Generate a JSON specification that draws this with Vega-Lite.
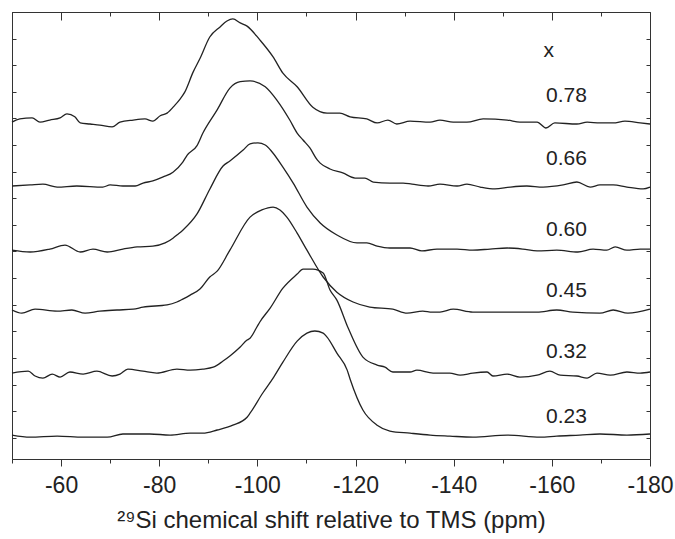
{
  "$schema": "https://vega.github.io/schema/vega-lite/v6.json",
  "autosize": "none",
  "width": 638,
  "height": 447,
  "padding": {"left": 12, "top": 12, "right": 25, "bottom": 80},
  "background": "white",
  "config": {
    "font": "Liberation Sans",
    "view": {"stroke": "#333", "strokeWidth": 1},
    "axis": {"tickColor": "#333", "domainColor": "#333", "labelColor": "#222", "titleColor": "#222", "grid": false, "tickWidth": 1}
  },
  "datasets": {
    "spectra": [
      {"comp":"0.78","shift":-50.0,"intensity":11.86},{"comp":"0.78","shift":-51.6,"intensity":11.98},{"comp":"0.78","shift":-54.1,"intensity":12.02},{"comp":"0.78","shift":-55.7,"intensity":11.86},{"comp":"0.78","shift":-57.7,"intensity":11.94},{"comp":"0.78","shift":-59.8,"intensity":12.02},{"comp":"0.78","shift":-61.2,"intensity":12.17},{"comp":"0.78","shift":-62.8,"intensity":12.06},{"comp":"0.78","shift":-63.9,"intensity":11.83},{"comp":"0.78","shift":-65.9,"intensity":11.79},{"comp":"0.78","shift":-67.9,"intensity":11.75},{"comp":"0.78","shift":-70.4,"intensity":11.68},{"comp":"0.78","shift":-72.0,"intensity":11.86},{"comp":"0.78","shift":-74.7,"intensity":11.94},{"comp":"0.78","shift":-77.1,"intensity":11.98},{"comp":"0.78","shift":-78.7,"intensity":11.90},{"comp":"0.78","shift":-80.2,"intensity":12.10},{"comp":"0.78","shift":-81.6,"intensity":12.20},{"comp":"0.78","shift":-83.2,"intensity":12.50},{"comp":"0.78","shift":-84.2,"intensity":12.72},{"comp":"0.78","shift":-85.2,"intensity":12.99},{"comp":"0.78","shift":-86.9,"intensity":13.74},{"comp":"0.78","shift":-88.3,"intensity":14.25},{"comp":"0.78","shift":-90.3,"intensity":15.06},{"comp":"0.78","shift":-92.4,"intensity":15.44},{"comp":"0.78","shift":-93.8,"intensity":15.66},{"comp":"0.78","shift":-95.0,"intensity":15.74},{"comp":"0.78","shift":-96.5,"intensity":15.59},{"comp":"0.78","shift":-97.9,"intensity":15.47},{"comp":"0.78","shift":-100.5,"intensity":14.95},{"comp":"0.78","shift":-103.2,"intensity":14.31},{"comp":"0.78","shift":-105.2,"intensity":13.70},{"comp":"0.78","shift":-108.1,"intensity":13.19},{"comp":"0.78","shift":-111.3,"intensity":12.42},{"comp":"0.78","shift":-114.2,"intensity":12.20},{"comp":"0.78","shift":-116.8,"intensity":12.20},{"comp":"0.78","shift":-118.9,"intensity":12.06},{"comp":"0.78","shift":-122.3,"intensity":11.98},{"comp":"0.78","shift":-124.4,"intensity":11.83},{"comp":"0.78","shift":-126.6,"intensity":11.94},{"comp":"0.78","shift":-128.4,"intensity":11.79},{"comp":"0.78","shift":-131.1,"intensity":11.90},{"comp":"0.78","shift":-135.2,"intensity":11.86},{"comp":"0.78","shift":-137.2,"intensity":11.94},{"comp":"0.78","shift":-139.9,"intensity":11.86},{"comp":"0.78","shift":-142.7,"intensity":11.86},{"comp":"0.78","shift":-146.0,"intensity":11.98},{"comp":"0.78","shift":-150.9,"intensity":11.94},{"comp":"0.78","shift":-153.5,"intensity":11.86},{"comp":"0.78","shift":-157.0,"intensity":11.86},{"comp":"0.78","shift":-158.8,"intensity":11.64},{"comp":"0.78","shift":-160.6,"intensity":11.83},{"comp":"0.78","shift":-165.1,"intensity":11.79},{"comp":"0.78","shift":-167.2,"intensity":11.86},{"comp":"0.78","shift":-169.8,"intensity":11.83},{"comp":"0.78","shift":-172.5,"intensity":11.83},{"comp":"0.78","shift":-174.9,"intensity":11.90},{"comp":"0.78","shift":-178.0,"intensity":11.83},{"comp":"0.78","shift":-180.0,"intensity":11.79},

      {"comp":"0.66","shift":-50.0,"intensity":9.46},{"comp":"0.66","shift":-53.7,"intensity":9.50},{"comp":"0.66","shift":-56.3,"intensity":9.53},{"comp":"0.66","shift":-59.2,"intensity":9.42},{"comp":"0.66","shift":-63.2,"intensity":9.46},{"comp":"0.66","shift":-68.5,"intensity":9.42},{"comp":"0.66","shift":-70.0,"intensity":9.50},{"comp":"0.66","shift":-72.6,"intensity":9.46},{"comp":"0.66","shift":-75.1,"intensity":9.46},{"comp":"0.66","shift":-76.7,"intensity":9.57},{"comp":"0.66","shift":-78.7,"intensity":9.65},{"comp":"0.66","shift":-80.8,"intensity":9.80},{"comp":"0.66","shift":-82.8,"intensity":9.98},{"comp":"0.66","shift":-84.8,"intensity":10.36},{"comp":"0.66","shift":-85.7,"intensity":10.62},{"comp":"0.66","shift":-87.7,"intensity":10.98},{"comp":"0.66","shift":-88.9,"intensity":11.45},{"comp":"0.66","shift":-91.8,"intensity":12.32},{"comp":"0.66","shift":-94.4,"intensity":13.14},{"comp":"0.66","shift":-96.5,"intensity":13.38},{"comp":"0.66","shift":-98.5,"intensity":13.41},{"comp":"0.66","shift":-101.6,"intensity":13.19},{"comp":"0.66","shift":-104.0,"intensity":12.68},{"comp":"0.66","shift":-106.6,"intensity":11.94},{"comp":"0.66","shift":-108.1,"intensity":11.45},{"comp":"0.66","shift":-109.3,"intensity":11.19},{"comp":"0.66","shift":-110.7,"intensity":10.89},{"comp":"0.66","shift":-112.2,"intensity":10.44},{"comp":"0.66","shift":-112.8,"intensity":10.32},{"comp":"0.66","shift":-114.8,"intensity":10.10},{"comp":"0.66","shift":-117.4,"intensity":9.95},{"comp":"0.66","shift":-119.9,"intensity":9.76},{"comp":"0.66","shift":-121.9,"intensity":9.76},{"comp":"0.66","shift":-123.6,"intensity":9.61},{"comp":"0.66","shift":-127.0,"intensity":9.57},{"comp":"0.66","shift":-129.7,"intensity":9.57},{"comp":"0.66","shift":-131.5,"intensity":9.53},{"comp":"0.66","shift":-134.8,"intensity":9.46},{"comp":"0.66","shift":-137.2,"intensity":9.53},{"comp":"0.66","shift":-140.7,"intensity":9.46},{"comp":"0.66","shift":-142.7,"intensity":9.53},{"comp":"0.66","shift":-145.4,"intensity":9.42},{"comp":"0.66","shift":-148.4,"intensity":9.35},{"comp":"0.66","shift":-151.5,"intensity":9.42},{"comp":"0.66","shift":-154.9,"intensity":9.46},{"comp":"0.66","shift":-158.2,"intensity":9.42},{"comp":"0.66","shift":-162.3,"intensity":9.50},{"comp":"0.66","shift":-165.1,"intensity":9.61},{"comp":"0.66","shift":-167.8,"intensity":9.42},{"comp":"0.66","shift":-169.8,"intensity":9.50},{"comp":"0.66","shift":-172.5,"intensity":9.50},{"comp":"0.66","shift":-175.3,"intensity":9.42},{"comp":"0.66","shift":-178.6,"intensity":9.35},{"comp":"0.66","shift":-180.0,"intensity":9.42},

      {"comp":"0.60","shift":-50.0,"intensity":7.05},{"comp":"0.60","shift":-53.7,"intensity":6.98},{"comp":"0.60","shift":-57.7,"intensity":7.09},{"comp":"0.60","shift":-60.8,"intensity":7.24},{"comp":"0.60","shift":-63.9,"intensity":6.98},{"comp":"0.60","shift":-66.5,"intensity":7.09},{"comp":"0.60","shift":-69.4,"intensity":6.98},{"comp":"0.60","shift":-72.6,"intensity":7.09},{"comp":"0.60","shift":-75.5,"intensity":7.17},{"comp":"0.60","shift":-78.7,"intensity":7.20},{"comp":"0.60","shift":-81.2,"intensity":7.32},{"comp":"0.60","shift":-82.8,"intensity":7.50},{"comp":"0.60","shift":-83.6,"intensity":7.62},{"comp":"0.60","shift":-84.8,"intensity":7.80},{"comp":"0.60","shift":-87.7,"intensity":8.41},{"comp":"0.60","shift":-90.3,"intensity":9.34},{"comp":"0.60","shift":-93.0,"intensity":10.21},{"comp":"0.60","shift":-94.4,"intensity":10.40},{"comp":"0.60","shift":-97.1,"intensity":10.81},{"comp":"0.60","shift":-98.5,"intensity":11.04},{"comp":"0.60","shift":-100.1,"intensity":11.08},{"comp":"0.60","shift":-101.6,"intensity":11.00},{"comp":"0.60","shift":-103.0,"intensity":10.74},{"comp":"0.60","shift":-105.2,"intensity":10.17},{"comp":"0.60","shift":-107.3,"intensity":9.57},{"comp":"0.60","shift":-110.1,"intensity":8.67},{"comp":"0.60","shift":-112.8,"intensity":8.07},{"comp":"0.60","shift":-116.2,"intensity":7.62},{"comp":"0.60","shift":-120.3,"intensity":7.32},{"comp":"0.60","shift":-122.3,"intensity":7.32},{"comp":"0.60","shift":-124.4,"intensity":7.20},{"comp":"0.60","shift":-127.0,"intensity":7.13},{"comp":"0.60","shift":-131.1,"intensity":7.13},{"comp":"0.60","shift":-133.5,"intensity":7.02},{"comp":"0.60","shift":-136.6,"intensity":7.09},{"comp":"0.60","shift":-140.7,"intensity":7.09},{"comp":"0.60","shift":-143.9,"intensity":7.05},{"comp":"0.60","shift":-147.4,"intensity":7.09},{"comp":"0.60","shift":-150.9,"intensity":7.13},{"comp":"0.60","shift":-154.1,"intensity":7.09},{"comp":"0.60","shift":-157.0,"intensity":7.02},{"comp":"0.60","shift":-161.0,"intensity":7.05},{"comp":"0.60","shift":-165.3,"intensity":6.98},{"comp":"0.60","shift":-168.4,"intensity":7.09},{"comp":"0.60","shift":-171.2,"intensity":7.05},{"comp":"0.60","shift":-172.9,"intensity":7.17},{"comp":"0.60","shift":-175.3,"intensity":7.05},{"comp":"0.60","shift":-178.0,"intensity":7.09},{"comp":"0.60","shift":-180.0,"intensity":7.09},

      {"comp":"0.45","shift":-50.0,"intensity":4.80},{"comp":"0.45","shift":-52.0,"intensity":4.68},{"comp":"0.45","shift":-54.7,"intensity":4.83},{"comp":"0.45","shift":-59.2,"intensity":4.76},{"comp":"0.45","shift":-62.2,"intensity":4.80},{"comp":"0.45","shift":-64.9,"intensity":4.68},{"comp":"0.45","shift":-67.9,"intensity":4.76},{"comp":"0.45","shift":-71.4,"intensity":4.80},{"comp":"0.45","shift":-74.7,"intensity":4.83},{"comp":"0.45","shift":-76.7,"intensity":4.91},{"comp":"0.45","shift":-81.6,"intensity":4.99},{"comp":"0.45","shift":-83.6,"intensity":5.10},{"comp":"0.45","shift":-84.8,"intensity":5.21},{"comp":"0.45","shift":-86.3,"intensity":5.36},{"comp":"0.45","shift":-88.3,"intensity":5.59},{"comp":"0.45","shift":-90.3,"intensity":6.04},{"comp":"0.45","shift":-91.8,"intensity":6.26},{"comp":"0.45","shift":-94.4,"intensity":7.05},{"comp":"0.45","shift":-98.5,"intensity":8.29},{"comp":"0.45","shift":-100.9,"intensity":8.56},{"comp":"0.45","shift":-103.2,"intensity":8.67},{"comp":"0.45","shift":-104.6,"intensity":8.56},{"comp":"0.45","shift":-106.0,"intensity":8.29},{"comp":"0.45","shift":-108.1,"intensity":7.69},{"comp":"0.45","shift":-110.1,"intensity":7.05},{"comp":"0.45","shift":-113.4,"intensity":6.04},{"comp":"0.45","shift":-116.2,"intensity":5.47},{"comp":"0.45","shift":-119.5,"intensity":5.10},{"comp":"0.45","shift":-122.9,"intensity":4.91},{"comp":"0.45","shift":-127.6,"intensity":4.83},{"comp":"0.45","shift":-130.5,"intensity":4.68},{"comp":"0.45","shift":-133.7,"intensity":4.76},{"comp":"0.45","shift":-135.6,"intensity":4.72},{"comp":"0.45","shift":-137.2,"intensity":4.72},{"comp":"0.45","shift":-139.9,"intensity":4.83},{"comp":"0.45","shift":-143.9,"intensity":4.72},{"comp":"0.45","shift":-150.9,"intensity":4.72},{"comp":"0.45","shift":-157.0,"intensity":4.72},{"comp":"0.45","shift":-161.0,"intensity":4.80},{"comp":"0.45","shift":-164.3,"intensity":4.72},{"comp":"0.45","shift":-169.8,"intensity":4.68},{"comp":"0.45","shift":-172.5,"intensity":4.80},{"comp":"0.45","shift":-175.5,"intensity":4.68},{"comp":"0.45","shift":-180.0,"intensity":4.83},

      {"comp":"0.32","shift":-50.0,"intensity":2.43},{"comp":"0.32","shift":-53.3,"intensity":2.50},{"comp":"0.32","shift":-54.7,"intensity":2.32},{"comp":"0.32","shift":-56.3,"intensity":2.24},{"comp":"0.32","shift":-58.2,"intensity":2.39},{"comp":"0.32","shift":-59.8,"intensity":2.28},{"comp":"0.32","shift":-61.8,"intensity":2.47},{"comp":"0.32","shift":-64.5,"intensity":2.39},{"comp":"0.32","shift":-67.3,"intensity":2.50},{"comp":"0.32","shift":-70.4,"intensity":2.32},{"comp":"0.32","shift":-72.0,"intensity":2.39},{"comp":"0.32","shift":-73.6,"intensity":2.58},{"comp":"0.32","shift":-76.7,"intensity":2.50},{"comp":"0.32","shift":-79.5,"intensity":2.43},{"comp":"0.32","shift":-83.6,"intensity":2.58},{"comp":"0.32","shift":-86.3,"intensity":2.54},{"comp":"0.32","shift":-88.9,"intensity":2.58},{"comp":"0.32","shift":-91.0,"intensity":2.65},{"comp":"0.32","shift":-93.0,"intensity":2.88},{"comp":"0.32","shift":-94.4,"intensity":3.07},{"comp":"0.32","shift":-96.5,"intensity":3.41},{"comp":"0.32","shift":-97.9,"intensity":3.67},{"comp":"0.32","shift":-98.5,"intensity":3.74},{"comp":"0.32","shift":-99.9,"intensity":4.16},{"comp":"0.32","shift":-100.5,"intensity":4.35},{"comp":"0.32","shift":-102.6,"intensity":4.87},{"comp":"0.32","shift":-105.2,"intensity":5.62},{"comp":"0.32","shift":-108.1,"intensity":6.15},{"comp":"0.32","shift":-109.3,"intensity":6.34},{"comp":"0.32","shift":-111.3,"intensity":6.34},{"comp":"0.32","shift":-113.4,"intensity":6.19},{"comp":"0.32","shift":-114.8,"intensity":5.55},{"comp":"0.32","shift":-116.2,"intensity":5.17},{"comp":"0.32","shift":-118.5,"intensity":4.12},{"comp":"0.32","shift":-121.5,"intensity":3.03},{"comp":"0.32","shift":-124.4,"intensity":2.73},{"comp":"0.32","shift":-126.0,"intensity":2.65},{"comp":"0.32","shift":-127.6,"intensity":2.47},{"comp":"0.32","shift":-131.1,"intensity":2.47},{"comp":"0.32","shift":-132.5,"intensity":2.54},{"comp":"0.32","shift":-135.8,"intensity":2.43},{"comp":"0.32","shift":-139.2,"intensity":2.43},{"comp":"0.32","shift":-141.3,"intensity":2.35},{"comp":"0.32","shift":-143.9,"intensity":2.43},{"comp":"0.32","shift":-146.8,"intensity":2.47},{"comp":"0.32","shift":-148.0,"intensity":2.32},{"comp":"0.32","shift":-150.9,"intensity":2.39},{"comp":"0.32","shift":-153.5,"intensity":2.28},{"comp":"0.32","shift":-157.0,"intensity":2.35},{"comp":"0.32","shift":-159.6,"intensity":2.50},{"comp":"0.32","shift":-161.7,"intensity":2.35},{"comp":"0.32","shift":-165.1,"intensity":2.32},{"comp":"0.32","shift":-167.2,"intensity":2.24},{"comp":"0.32","shift":-169.2,"intensity":2.43},{"comp":"0.32","shift":-171.9,"intensity":2.35},{"comp":"0.32","shift":-175.3,"intensity":2.47},{"comp":"0.32","shift":-178.0,"intensity":2.43},{"comp":"0.32","shift":-180.0,"intensity":2.47},

      {"comp":"0.23","shift":-50.0,"intensity":0.10},{"comp":"0.23","shift":-53.7,"intensity":0.02},{"comp":"0.23","shift":-59.2,"intensity":0.06},{"comp":"0.23","shift":-64.5,"intensity":0.02},{"comp":"0.23","shift":-69.4,"intensity":0.02},{"comp":"0.23","shift":-72.6,"intensity":0.14},{"comp":"0.23","shift":-78.1,"intensity":0.14},{"comp":"0.23","shift":-82.2,"intensity":0.10},{"comp":"0.23","shift":-86.3,"intensity":0.17},{"comp":"0.23","shift":-88.9,"intensity":0.17},{"comp":"0.23","shift":-91.8,"intensity":0.29},{"comp":"0.23","shift":-95.0,"intensity":0.47},{"comp":"0.23","shift":-97.9,"intensity":0.77},{"comp":"0.23","shift":-98.5,"intensity":0.92},{"comp":"0.23","shift":-101.1,"intensity":1.68},{"comp":"0.23","shift":-103.2,"intensity":2.24},{"comp":"0.23","shift":-105.2,"intensity":2.84},{"comp":"0.23","shift":-108.1,"intensity":3.63},{"comp":"0.23","shift":-110.1,"intensity":3.93},{"comp":"0.23","shift":-111.7,"intensity":4.01},{"comp":"0.23","shift":-113.4,"intensity":3.93},{"comp":"0.23","shift":-114.2,"intensity":3.78},{"comp":"0.23","shift":-116.2,"intensity":3.18},{"comp":"0.23","shift":-118.3,"intensity":2.54},{"comp":"0.23","shift":-118.9,"intensity":2.20},{"comp":"0.23","shift":-121.5,"intensity":1.04},{"comp":"0.23","shift":-124.4,"intensity":0.47},{"comp":"0.23","shift":-127.0,"intensity":0.25},{"comp":"0.23","shift":-131.1,"intensity":0.17},{"comp":"0.23","shift":-135.2,"intensity":0.10},{"comp":"0.23","shift":-139.2,"intensity":0.06},{"comp":"0.23","shift":-143.9,"intensity":0.02},{"comp":"0.23","shift":-150.9,"intensity":0.10},{"comp":"0.23","shift":-157.6,"intensity":0.02},{"comp":"0.23","shift":-161.0,"intensity":0.06},{"comp":"0.23","shift":-165.7,"intensity":0.10},{"comp":"0.23","shift":-169.8,"intensity":0.14},{"comp":"0.23","shift":-175.3,"intensity":0.10},{"comp":"0.23","shift":-180.0,"intensity":0.14}
    ],
    "labels": [
      {"label":"x","shift":-158.3,"intensity":14.32},
      {"label":"0.78","shift":-158.8,"intensity":12.63},
      {"label":"0.66","shift":-158.8,"intensity":10.25},
      {"label":"0.60","shift":-158.8,"intensity":7.59},
      {"label":"0.45","shift":-158.8,"intensity":5.30},
      {"label":"0.32","shift":-158.8,"intensity":3.0},
      {"label":"0.23","shift":-158.8,"intensity":0.55}
    ]
  },
  "resolve": {"axis": {"x": "independent", "y": "independent"}},
  "layer": [
    {
      "data": {"name": "spectra"},
      "mark": {"type": "line", "stroke": "#222", "strokeWidth": 1.3, "interpolate": "monotone"},
      "encoding": {
        "x": {"field": "shift", "type": "quantitative",
              "scale": {"domain": [-180, -50], "reverse": true, "nice": false, "zero": false},
              "axis": {"orient": "bottom", "values": [-60, -80, -100, -120, -140, -160, -180], "labelExpr": "'-' + abs(datum.value)", "tickSize": 7, "labelFontSize": 23, "labelPadding": 8, "labelFlush": false, "domain": true, "title": "²⁹Si chemical shift relative to TMS (ppm)", "titleFontSize": 24, "titleFontWeight": "normal", "titlePadding": 11}},
        "y": {"field": "intensity", "type": "quantitative",
              "scale": {"domain": [-0.8, 16], "nice": false, "zero": false},
              "axis": {"orient": "left", "values": [0,1,2,3,4,5,6,7,8,9,10,11,12,13,14,15,16], "tickSize": -4, "labels": false, "title": null, "domain": true}},
        "detail": {"field": "comp"}
      }
    },
    {
      "data": {"name": "spectra"},
      "mark": {"type": "point", "opacity": 0},
      "encoding": {
        "x": {"field": "shift", "type": "quantitative",
              "axis": {"orient": "bottom", "values": [-50, -70, -90, -110, -130, -150, -170], "tickSize": 4, "labels": false, "title": null, "domain": false}},
        "y": {"field": "intensity", "type": "quantitative",
              "axis": {"orient": "right", "values": [0,1,2,3,4,5,6,7,8,9,10,11,12,13,14,15,16], "tickSize": -4, "labels": false, "title": null, "domain": false}}
      }
    },
    {
      "data": {"name": "spectra"},
      "mark": {"type": "point", "opacity": 0},
      "encoding": {
        "x": {"field": "shift", "type": "quantitative",
              "axis": {"orient": "top", "values": [-60, -80, -100, -120, -140, -160, -180], "tickSize": -8, "labels": false, "title": null, "domain": false}},
        "y": {"field": "intensity", "type": "quantitative", "axis": null}
      }
    },
    {
      "data": {"name": "spectra"},
      "mark": {"type": "point", "opacity": 0},
      "encoding": {
        "x": {"field": "shift", "type": "quantitative",
              "axis": {"orient": "top", "values": [-50, -70, -90, -110, -130, -150, -170], "tickSize": -4, "labels": false, "title": null, "domain": false}},
        "y": {"field": "intensity", "type": "quantitative", "axis": null}
      }
    },
    {
      "data": {"name": "labels"},
      "mark": {"type": "text", "align": "left", "baseline": "alphabetic", "fontSize": 21, "color": "#222"},
      "encoding": {
        "x": {"field": "shift", "type": "quantitative", "axis": null},
        "y": {"field": "intensity", "type": "quantitative", "axis": null},
        "text": {"field": "label"}
      }
    }
  ]
}
